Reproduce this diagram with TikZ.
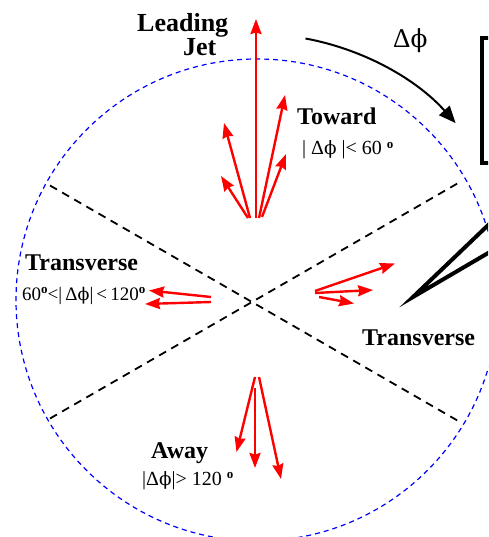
\documentclass[tikz,border=0pt]{standalone}
\usepackage{fontspec}
\setmainfont{Liberation Serif}
\newfontfamily\phifont{DejaVu Serif}
\usetikzlibrary{arrows.meta}
\newcommand{\dg}{\raisebox{0.75ex}{\fontsize{13}{13}\selectfont\bfseries o}}
\newcommand{\dph}{Δ{\phifont\scalebox{0.92}{ϕ}}}
\begin{document}
\begin{tikzpicture}[x=1pt,y=-1pt,
  redarrow/.style={draw=red,line width=2.4pt,-{Stealth[length=15pt,width=11pt,inset=1.5pt]}},
  bigbold/.style={font=\fontsize{26}{28}\selectfont\bfseries,inner sep=0pt},
  bold/.style={font=\fontsize{24}{26}\selectfont\bfseries,inner sep=0pt},
  reg/.style={font=\fontsize{20}{22}\selectfont,inner sep=0pt},
  sector/.style={draw=black,line width=1.8pt,dash pattern=on 8pt off 6pt},
  ring/.style={draw=blue,line width=1.2pt,dash pattern=on 5pt off 4pt}]
\useasboundingbox (0,0) rectangle (488,537);
\clip (0,0) rectangle (488,537);
% dashed circle
\coordinate (c) at (257,300);
\draw[ring] (c) circle[radius=241];
% sector lines
\coordinate (ul) at (50,185.5);
\coordinate (lr) at (460,422);
\coordinate (ur) at (460,182);
\coordinate (ll) at (50,418.5);
\draw[sector] (ul) -- (lr);
\draw[sector] (ll) -- (ur);
% box and pointer
\draw[line width=4pt] (520,38) -- (482,38) -- (482,163) -- (520,163);
\coordinate (wt) at (413,297);
\coordinate (wa) at (495,218.5);
\coordinate (wb) at (495,249);
\draw[line width=4pt,line join=miter,miter limit=20] (wa) -- (wt) -- (wb);
% delta phi arrow
\coordinate (as) at (305.5,38.5);
\draw[line width=2pt,-{Triangle[length=17pt,width=14pt]}] (as) arc[start angle=-79.5,end angle=-41.7,radius=266];
\node[anchor=base west,font=\fontsize{27}{28}\selectfont,inner sep=0pt] (dphi) at (393,48) {\dph};
% toward arrows
\coordinate (t0) at (256,218); \coordinate (t0e) at (256,19);
\coordinate (t1) at (250,218); \coordinate (t1e) at (224,123);
\coordinate (t2) at (248,218); \coordinate (t2e) at (221,176);
\coordinate (t3) at (259,218); \coordinate (t3e) at (285,95);
\coordinate (t4) at (262,217); \coordinate (t4e) at (286,154);
\foreach \i in {0,...,4} {\draw[redarrow] (t\i) -- (t\i e);}
% left transverse arrows
\coordinate (l1) at (211,297); \coordinate (l1e) at (149,290.5);
\coordinate (l2) at (211,302); \coordinate (l2e) at (145,304);
\draw[redarrow] (l1) -- (l1e);
\draw[redarrow] (l2) -- (l2e);
% right transverse arrows
\coordinate (r1) at (315,291); \coordinate (r1e) at (395,263.5);
\coordinate (r2) at (315,293); \coordinate (r2e) at (373,290);
\coordinate (r3) at (319,297); \coordinate (r3e) at (354,303.5);
\draw[redarrow] (r1) -- (r1e);
\draw[redarrow] (r2) -- (r2e);
\draw[redarrow] (r3) -- (r3e);
% away arrows
\coordinate (a1) at (255,377); \coordinate (a1e) at (236.5,452);
\coordinate (a2) at (255,388); \coordinate (a2e) at (255,468);
\coordinate (a3) at (259,377); \coordinate (a3e) at (281,479);
\draw[redarrow] (a1) -- (a1e);
\draw[redarrow] (a2) -- (a2e);
\draw[redarrow] (a3) -- (a3e);
% labels
\node[bigbold,anchor=base west] (lead) at (137,32) {Leading};
\node[bigbold,anchor=base west] (jet) at (183,56) {Jet};
\node[bold,anchor=base west] (tow) at (297,125) {Toward};
\node[reg,anchor=base west] (towc) at (302,155) {| \dph\ |< 60 \dg};
\node[bold,anchor=base west] (trl) at (25,270) {Transverse};
\node[reg,font=\fontsize{19}{21}\selectfont,anchor=base west] (trlc) at (22,300) {60\dg<|\,\dph|\,<\,120\dg};
\node[bold,anchor=base west] (trr) at (362,345) {Transverse};
\node[bold,anchor=base west] (away) at (151,458) {Away};
\node[reg,anchor=base west] (awayc) at (142,485) {|\dph|> 120 \dg};
\end{tikzpicture}
\end{document}
